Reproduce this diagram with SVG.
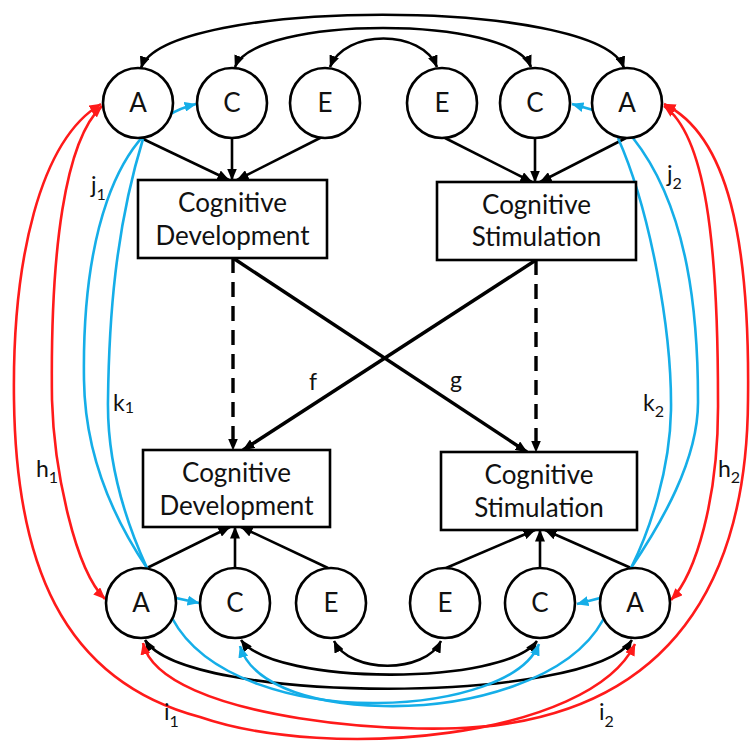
<svg xmlns="http://www.w3.org/2000/svg" width="756" height="742" viewBox="0 0 756 742">
  <style>
    .node circle, .node rect { fill: #fff; stroke: #000; stroke-width: 2.6; }
    .node text { font-family: Lato, "Open Sans", sans-serif; font-size: 26px; fill: #111; text-anchor: middle; }
    .lbl { font-family: Lato, "Open Sans", sans-serif; font-size: 23px; fill: #111; }
    .lbl tspan { font-size: 16px; }
    .k { fill: none; stroke: #000; stroke-width: 2.6; }
    .kb { fill: none; stroke: #000; stroke-width: 3.4; }
    .dash { stroke-dasharray: 15 9; }
    .r { fill: none; stroke: #ff1a1a; stroke-width: 2.6; }
    .b { fill: none; stroke: #15aee8; stroke-width: 2.6; }
  </style>
  <defs>
    <marker id="ak" viewBox="0 0 12 10" refX="11.5" refY="5" markerWidth="12" markerHeight="10" markerUnits="userSpaceOnUse" orient="auto-start-reverse">
      <path d="M0,0 L12,5 L0,10 z" fill="#000"/>
    </marker>
    <marker id="ar" viewBox="0 0 12 10" refX="11.5" refY="5" markerWidth="12" markerHeight="10" markerUnits="userSpaceOnUse" orient="auto-start-reverse">
      <path d="M0,0 L12,5 L0,10 z" fill="#ff1a1a"/>
    </marker>
    <marker id="ab" viewBox="0 0 12 10" refX="11.5" refY="5" markerWidth="12" markerHeight="10" markerUnits="userSpaceOnUse" orient="auto-start-reverse">
      <path d="M0,0 L12,5 L0,10 z" fill="#15aee8"/>
    </marker>
  </defs>

  <!-- connectors (drawn first so node fills cover the hidden parts) -->
  <g id="connectors">
    <!-- top covariances -->
    <path class="k" d="M141,68 C165,-3 600,-3 624,68" marker-start="url(#ak)" marker-end="url(#ak)"/>
    <path class="k" d="M235,67 C255,15 511,15 531,67" marker-start="url(#ak)" marker-end="url(#ak)"/>
    <path class="k" d="M330,67 C345,29 422,29 437,67" marker-start="url(#ak)" marker-end="url(#ak)"/>
    <!-- bottom covariances -->
    <path class="k" d="M145,640 C185,705 590,705 632,640" marker-start="url(#ak)" marker-end="url(#ak)"/>
    <path class="k" d="M241,640 C275,686 505,686 537,641" marker-start="url(#ak)" marker-end="url(#ak)"/>
    <path class="k" d="M334,641 C350,674 425,674 441,641" marker-start="url(#ak)" marker-end="url(#ak)"/>

    <!-- ACE loadings, time 1 -->
    <path class="k" d="M141,138 L229,180" marker-end="url(#ak)"/>
    <path class="k" d="M232,138 L232,180" marker-end="url(#ak)"/>
    <path class="k" d="M322,137 L237,180" marker-end="url(#ak)"/>
    <path class="k" d="M445,138 L532,182" marker-end="url(#ak)"/>
    <path class="k" d="M535,138 L535,182" marker-end="url(#ak)"/>
    <path class="k" d="M626,138 L540,182" marker-end="url(#ak)"/>
    <!-- ACE loadings, time 2 -->
    <path class="k" d="M147,568 L230,527" marker-end="url(#ak)"/>
    <path class="k" d="M235,568 L235,527" marker-end="url(#ak)"/>
    <path class="k" d="M328,568 L241,527" marker-end="url(#ak)"/>
    <path class="k" d="M446,568 L535,530" marker-end="url(#ak)"/>
    <path class="k" d="M540,568 L540,530" marker-end="url(#ak)"/>
    <path class="k" d="M631,568 L545,530" marker-end="url(#ak)"/>

    <!-- phenotype paths -->
    <path class="kb dash" d="M233,258 L233,450" marker-end="url(#ak)"/>
    <path class="kb dash" d="M536,260 L536,452" marker-end="url(#ak)"/>
    <path class="kb" d="M233,258 L527,452" marker-end="url(#ak)"/>
    <path class="kb" d="M536,260 L243,450" marker-end="url(#ak)"/>

    <!-- blue paths -->
    <path class="b" d="M196,104 C110,125 82,250 84,380 C85,460 118,525 147,568 L176,598 L199,603" marker-start="url(#ab)" marker-end="url(#ab)"/>
    <path class="b" d="M143,139 C115,230 109,320 108,400 C107,460 125,520 147,568 L172,618 C205,680 300,704 378,703 C456,702 525,680 539,644" marker-end="url(#ab)"/>
    <path class="b" d="M572,104 L600,112 L633,138 C690,210 698,320 698,400 C699,460 660,525 631,568 L600,598 L577,604" marker-start="url(#ab)" marker-end="url(#ab)"/>
    <path class="b" d="M618,138 C650,210 672,330 671,410 C670,470 650,530 631,568 L603,620 C570,680 470,708 383,706 C300,704 250,680 240,646" marker-end="url(#ab)"/>

    <!-- red paths -->
    <path class="r" d="M102,106 C65,140 50,250 52,400 C54,470 75,570 105,599" marker-start="url(#ar)" marker-end="url(#ar)"/>
    <path class="r" d="M101,104 C40,140 12,260 14,400 C16,560 60,680 200,717 C330,762 590,738 635,644" marker-start="url(#ar)" marker-end="url(#ar)"/>
    <path class="r" d="M664,106 C705,135 718,240 718,400 C719,500 695,575 671,600" marker-start="url(#ar)" marker-end="url(#ar)"/>
    <path class="r" d="M664,104 C728,135 750,240 748,400 C747,570 680,695 511,723 C420,740 160,720 143,643" marker-start="url(#ar)" marker-end="url(#ar)"/>
  </g>

  <!-- path labels -->
  <g id="labels">
    <text class="lbl" x="91" y="193">j<tspan dy="7">1</tspan></text>
    <text class="lbl" x="667" y="182">j<tspan dy="7">2</tspan></text>
    <text class="lbl" x="113" y="411">k<tspan dy="2">1</tspan></text>
    <text class="lbl" x="643" y="411">k<tspan dy="6">2</tspan></text>
    <text class="lbl" x="36" y="477">h<tspan dy="6">1</tspan></text>
    <text class="lbl" x="718" y="477">h<tspan dy="6">2</tspan></text>
    <text class="lbl" x="164" y="720">i<tspan dy="7">1</tspan></text>
    <text class="lbl" x="599" y="720">i<tspan dy="7">2</tspan></text>
    <text class="lbl" x="309" y="390">f</text>
    <text class="lbl" x="450" y="388">g</text>
  </g>

  <!-- time 1 latent factors -->
  <g id="A1_dev" class="node"><circle cx="138" cy="103" r="35"/><text x="138" y="112">A</text></g>
  <g id="C1_dev" class="node"><circle cx="232" cy="103" r="35"/><text x="232" y="112">C</text></g>
  <g id="E1_dev" class="node"><circle cx="325" cy="103" r="35"/><text x="325" y="112">E</text></g>
  <g id="E1_stim" class="node"><circle cx="442" cy="103" r="35"/><text x="442" y="112">E</text></g>
  <g id="C1_stim" class="node"><circle cx="535" cy="103" r="35"/><text x="535" y="112">C</text></g>
  <g id="A1_stim" class="node"><circle cx="627" cy="103" r="35"/><text x="627" y="112">A</text></g>

  <!-- phenotypes -->
  <g id="dev_t1" class="node"><rect x="138" y="180" width="189" height="78"/><text x="232.5" y="212">Cognitive</text><text x="232.5" y="245">Development</text></g>
  <g id="stim_t1" class="node"><rect x="437" y="182" width="199" height="78"/><text x="536.5" y="214">Cognitive</text><text x="536.5" y="246">Stimulation</text></g>
  <g id="dev_t2" class="node"><rect x="143" y="450" width="187" height="77"/><text x="236.5" y="482">Cognitive</text><text x="236.5" y="515">Development</text></g>
  <g id="stim_t2" class="node"><rect x="441" y="452" width="196" height="78"/><text x="539" y="484">Cognitive</text><text x="539" y="517">Stimulation</text></g>

  <!-- time 2 latent factors -->
  <g id="A2_dev" class="node"><circle cx="141" cy="603" r="35"/><text x="141" y="612">A</text></g>
  <g id="C2_dev" class="node"><circle cx="235" cy="603" r="35"/><text x="235" y="612">C</text></g>
  <g id="E2_dev" class="node"><circle cx="331" cy="603" r="35"/><text x="331" y="612">E</text></g>
  <g id="E2_stim" class="node"><circle cx="445" cy="603" r="35"/><text x="445" y="612">E</text></g>
  <g id="C2_stim" class="node"><circle cx="540" cy="603" r="35"/><text x="540" y="612">C</text></g>
  <g id="A2_stim" class="node"><circle cx="635" cy="603" r="35"/><text x="635" y="612">A</text></g>
</svg>
